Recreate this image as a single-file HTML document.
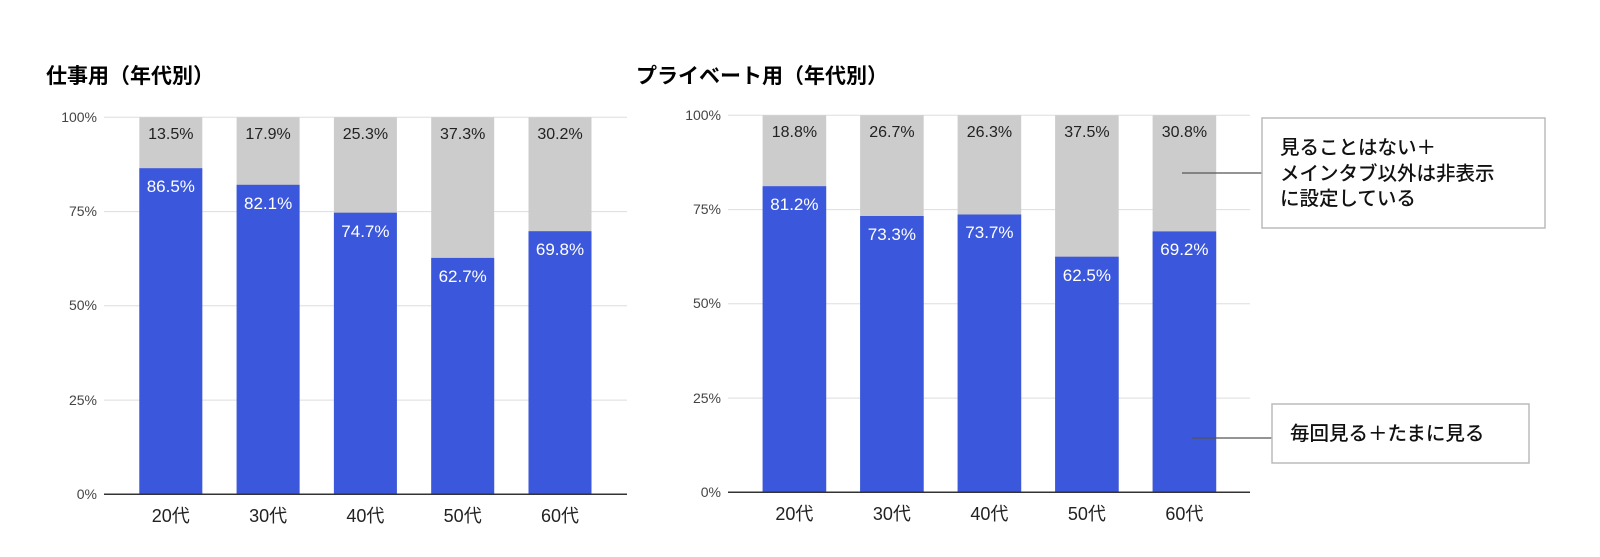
<!DOCTYPE html>
<html><head><meta charset="utf-8"><style>
html,body{margin:0;padding:0;background:#fff;}
svg{display:block;}
text{font-family:"Liberation Sans","Noto Sans CJK JP",sans-serif;}
.t{font-family:"Noto Sans CJK JP",sans-serif;font-weight:700;font-size:21px;fill:#000;}
.ax{font-size:14px;fill:#444;text-anchor:end;}
.xl{font-family:"Liberation Sans","Noto Sans CJK JP",sans-serif;font-size:18px;fill:#222;text-anchor:middle;}
.g{font-size:16px;fill:#222;text-anchor:middle;}
.w{font-size:17px;fill:#fff;text-anchor:middle;}
.lg{font-family:"Noto Sans CJK JP",sans-serif;font-weight:500;font-size:19.5px;fill:#111;}
</style></head><body>
<svg width="1600" height="557" viewBox="0 0 1600 557" xmlns="http://www.w3.org/2000/svg">
<text class="t" x="46" y="83">仕事用（年代別）</text>
<text class="t" x="636" y="83">プライベート用（年代別）</text>

<!-- left gridlines -->
<g stroke="#dddddd" stroke-width="1">
<line x1="104" y1="117.3" x2="627" y2="117.3"/>
<line x1="104" y1="211.6" x2="627" y2="211.6"/>
<line x1="104" y1="305.8" x2="627" y2="305.8"/>
<line x1="104" y1="400.1" x2="627" y2="400.1"/>
<line x1="728" y1="115.3" x2="1250" y2="115.3"/>
<line x1="728" y1="209.6" x2="1250" y2="209.6"/>
<line x1="728" y1="303.8" x2="1250" y2="303.8"/>
<line x1="728" y1="398.1" x2="1250" y2="398.1"/>
</g>
<g class="ax">
<text x="97" y="122">100%</text><text x="97" y="216">75%</text><text x="97" y="310">50%</text><text x="97" y="405">25%</text><text x="97" y="499">0%</text>
<text x="721" y="120">100%</text><text x="721" y="214">75%</text><text x="721" y="308">50%</text><text x="721" y="403">25%</text><text x="721" y="497">0%</text>
</g>

<!-- left bars -->
<g fill="#cccccc">
<rect x="139.3" y="117.3" width="63" height="377"/>
<rect x="236.6" y="117.3" width="63" height="377"/>
<rect x="333.9" y="117.3" width="63" height="377"/>
<rect x="431.2" y="117.3" width="63" height="377"/>
<rect x="528.5" y="117.3" width="63" height="377"/>
<rect x="762.6" y="115.3" width="63.6" height="377"/>
<rect x="860.1" y="115.3" width="63.6" height="377"/>
<rect x="957.6" y="115.3" width="63.6" height="377"/>
<rect x="1055.1" y="115.3" width="63.6" height="377"/>
<rect x="1152.6" y="115.3" width="63.6" height="377"/>
</g>
<g fill="#3b57db">
<rect x="139.3" y="168.2" width="63" height="326.1"/>
<rect x="236.6" y="184.8" width="63" height="309.5"/>
<rect x="333.9" y="212.7" width="63" height="281.6"/>
<rect x="431.2" y="257.9" width="63" height="236.4"/>
<rect x="528.5" y="231.2" width="63" height="263.1"/>
<rect x="762.6" y="186.2" width="63.6" height="306.1"/>
<rect x="860.1" y="216.0" width="63.6" height="276.3"/>
<rect x="957.6" y="214.5" width="63.6" height="277.8"/>
<rect x="1055.1" y="256.7" width="63.6" height="235.6"/>
<rect x="1152.6" y="231.4" width="63.6" height="260.9"/>
</g>
<g stroke="#333" stroke-width="1.5">
<line x1="104" y1="494.3" x2="627" y2="494.3"/>
<line x1="728" y1="492.3" x2="1250" y2="492.3"/>
</g>

<g class="g">
<text x="170.8" y="139">13.5%</text><text x="268.1" y="139">17.9%</text><text x="365.4" y="139">25.3%</text><text x="462.7" y="139">37.3%</text><text x="560" y="139">30.2%</text>
<text x="794.4" y="137">18.8%</text><text x="891.9" y="137">26.7%</text><text x="989.4" y="137">26.3%</text><text x="1086.9" y="137">37.5%</text><text x="1184.4" y="137">30.8%</text>
</g>
<g class="w">
<text x="170.8" y="192">86.5%</text><text x="268.1" y="209">82.1%</text><text x="365.4" y="237">74.7%</text><text x="462.7" y="282">62.7%</text><text x="560" y="255">69.8%</text>
<text x="794.4" y="210">81.2%</text><text x="891.9" y="240">73.3%</text><text x="989.4" y="238">73.7%</text><text x="1086.9" y="281">62.5%</text><text x="1184.4" y="255">69.2%</text>
</g>
<g class="xl">
<text x="170.8" y="522">20代</text><text x="268.1" y="522">30代</text><text x="365.4" y="522">40代</text><text x="462.7" y="522">50代</text><text x="560" y="522">60代</text>
<text x="794.4" y="520">20代</text><text x="891.9" y="520">30代</text><text x="989.4" y="520">40代</text><text x="1086.9" y="520">50代</text><text x="1184.4" y="520">60代</text>
</g>

<!-- legend callouts -->
<line x1="1182" y1="173" x2="1262" y2="173" stroke="#555" stroke-width="1.2"/>
<rect x="1262" y="118" width="283" height="110" fill="#fff" stroke="#bbb" stroke-width="1.5"/>
<text class="lg" x="1280" y="154">見ることはない＋</text>
<text class="lg" x="1280" y="180">メインタブ以外は非表示</text>
<text class="lg" x="1280" y="205">に設定している</text>

<line x1="1192" y1="438" x2="1272" y2="438" stroke="#555" stroke-width="1.2"/>
<rect x="1272" y="404" width="257" height="59" fill="#fff" stroke="#bbb" stroke-width="1.5"/>
<text class="lg" x="1290" y="440">毎回見る＋たまに見る</text>
</svg>
</body></html>
